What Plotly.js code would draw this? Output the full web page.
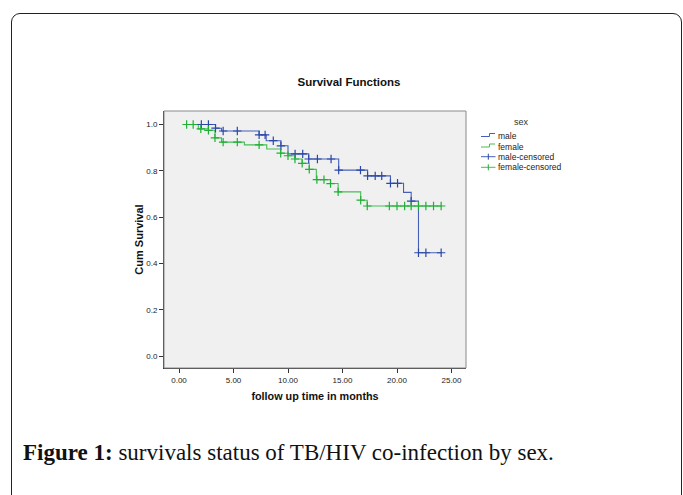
<!DOCTYPE html>
<html>
<head>
<meta charset="utf-8">
<script src="https://cdn.plot.ly/plotly-3.0.1.min.js"></script>
<style>
  html, body { margin: 0; padding: 0; background: #ffffff; }
  #wrap { position: relative; width: 683px; height: 495px; overflow: hidden; }
  #chart { position: absolute; left: 0; top: 0; width: 683px; height: 495px; }
  #frame { position: absolute; left: 11px; top: 13px; width: 671px; height: 520px;
           border: 1.5px solid #222; border-radius: 9px; pointer-events: none; box-sizing: border-box; }
</style>
</head>
<body>
<div id="wrap">
  <div id="chart"></div>
  <div id="frame"></div>
</div>
<script>
// ---- data (follow-up months, cumulative survival) ----
const maleStart = 0.64;
const maleEnd = 24.05;
const maleEventTimes = [3.35, 3.9, 7.35, 8.0, 9.35, 10.0, 11.9, 14.65, 17.3, 19.4, 20.6, 21.3, 21.97];
const maleSurvival   = [0.984, 0.972, 0.955, 0.930, 0.908, 0.873, 0.851, 0.803, 0.778, 0.746, 0.707, 0.669, 0.446];
const maleCensored   = [2.05, 2.7, 3.35, 4.05, 5.35, 7.35, 7.9, 8.65, 9.35, 10.65, 11.35, 11.9, 12.7, 13.95,
                        14.65, 16.65, 17.3, 18.0, 18.6, 19.4, 20.05, 21.3, 21.97, 22.65, 24.05];

const femaleStart = 0.64;
const femaleEnd = 24.05;
const femaleEventTimes = [1.77, 2.7, 3.3, 3.9, 6.0, 8.05, 9.33, 10.0, 10.64, 11.3, 11.95, 12.6, 13.9, 14.6, 16.67, 17.27];
const femaleSurvival   = [0.981, 0.975, 0.942, 0.924, 0.912, 0.894, 0.876, 0.865, 0.851, 0.832, 0.806, 0.762, 0.745, 0.709, 0.673, 0.648];
const femaleCensored   = [0.7, 1.3, 2.0, 2.7, 3.3, 4.05, 5.35, 7.35, 9.33, 10.0, 10.64, 11.3, 11.95, 12.65, 13.3,
                          13.9, 14.6, 16.67, 17.27, 19.3, 20.0, 20.7, 21.3, 21.97, 22.65, 23.35, 24.05];

const xTicks = [0, 5, 10, 15, 20, 25];
const xTickLabels = ['0.00', '5.00', '10.00', '15.00', '20.00', '25.00'];
const yTicks = [0, 0.2, 0.4, 0.6, 0.8, 1.0];
const yTickLabels = ['0.0', '0.2', '0.4', '0.6', '0.8', '1.0'];

const legendLabels = ['male', 'female', 'male-censored', 'female-censored'];

// ---- helpers ----
function stepXY(start, end, times, surv) {
  const x = [start].concat(times).concat([end]);
  const y = [1].concat(surv).concat([surv[surv.length - 1]]);
  return {x, y};
}
function survAt(t, times, surv) {
  let s = 1;
  for (let i = 0; i < times.length; i++) { if (t >= times[i] - 1e-9) s = surv[i]; }
  return s;
}

const BLUE = '#4560b8', BLUE_M = '#2b47a8';
const GREEN = '#46bd55', GREEN_M = '#1faf36';

const m = stepXY(maleStart, maleEnd, maleEventTimes, maleSurvival);
const f = stepXY(femaleStart, femaleEnd, femaleEventTimes, femaleSurvival);

const traces = [
  {x: m.x, y: m.y, type: 'scatter', mode: 'lines', line: {shape: 'hv', color: BLUE, width: 1.1},
   name: legendLabels[0], showlegend: false, hoverinfo: 'skip'},
  {x: f.x, y: f.y, type: 'scatter', mode: 'lines', line: {shape: 'hv', color: GREEN, width: 1.1},
   name: legendLabels[1], showlegend: false, hoverinfo: 'skip'},
  {x: maleCensored, y: maleCensored.map(t => survAt(t, maleEventTimes, maleSurvival)),
   type: 'scatter', mode: 'markers', name: legendLabels[2], showlegend: false,
   marker: {symbol: 'cross-thin', size: 6, line: {color: BLUE_M, width: 1.2}}},
  {x: femaleCensored, y: femaleCensored.map(t => survAt(t, femaleEventTimes, femaleSurvival)),
   type: 'scatter', mode: 'markers', name: legendLabels[3], showlegend: false,
   marker: {symbol: 'cross-thin', size: 6, line: {color: GREEN_M, width: 1.2}}}
];

// plot area in pixels
const L = 164, R = 466, T = 111, B = 368;
const px = v => (v - L) / (R - L);
const py = v => (B - v) / (B - T);

const FONT = 'Liberation Sans, Arial, sans-serif';

// custom SPSS-like legend
const shapes = [
  {type: 'rect', xref: 'paper', yref: 'paper', x0: 0, x1: 1, y0: 0, y1: 1,
   line: {color: '#8a8a8a', width: 1}, layer: 'above'},
  // male step glyph
  {type: 'path', xref: 'paper', yref: 'paper',
   path: `M ${px(481)} ${py(136.5)} L ${px(489.5)} ${py(136.5)} L ${px(489.5)} ${py(133.5)} L ${px(495)} ${py(133.5)}`,
   line: {color: BLUE, width: 1}},
  // female step glyph
  {type: 'path', xref: 'paper', yref: 'paper',
   path: `M ${px(481)} ${py(147)} L ${px(489.5)} ${py(147)} L ${px(489.5)} ${py(144)} L ${px(495)} ${py(144)}`,
   line: {color: GREEN, width: 1}},
  // censored glyph lines
  {type: 'line', xref: 'paper', yref: 'paper', x0: px(481), x1: px(495.5), y0: py(156.7), y1: py(156.7),
   line: {color: BLUE, width: 1}},
  {type: 'line', xref: 'paper', yref: 'paper', x0: px(488.3), x1: px(488.3), y0: py(153.7), y1: py(159.7),
   line: {color: BLUE_M, width: 1}},
  {type: 'line', xref: 'paper', yref: 'paper', x0: px(481), x1: px(495.5), y0: py(167.3), y1: py(167.3),
   line: {color: GREEN, width: 1}},
  {type: 'line', xref: 'paper', yref: 'paper', x0: px(488.3), x1: px(488.3), y0: py(164.3), y1: py(170.3),
   line: {color: GREEN_M, width: 1}}
];

const legendY = [136, 146.6, 157, 167.4];
const annotations = [
  {text: 'sex', xref: 'paper', yref: 'paper', x: px(521), y: py(122), xanchor: 'center', yanchor: 'middle',
   showarrow: false, font: {family: FONT, size: 9, color: '#333'}}
].concat(legendLabels.map((s, i) => ({
  text: s, xref: 'paper', yref: 'paper', x: px(495.5), y: py(legendY[i]), xanchor: 'left', yanchor: 'middle',
  showarrow: false, font: {family: FONT, size: 8.5, color: '#222'}
}))).concat([
  {text: '<b>Figure 1:</b> survivals status of TB/HIV co-infection by sex.', xref: 'paper', yref: 'paper',
   x: px(21), y: py(452), xanchor: 'left', yanchor: 'middle', showarrow: false, align: 'left',
   font: {family: 'Liberation Serif, Times New Roman, serif', size: 23, color: '#111'}}
]);

const layout = {
  width: 683, height: 495,
  margin: {l: L, r: 683 - R, t: T, b: 495 - B, pad: 0},
  paper_bgcolor: '#ffffff',
  plot_bgcolor: '#f0f0f0',
  showlegend: false,
  title: {text: '<b>Survival Functions</b>', x: px(349), xref: 'paper', xanchor: 'center',
          y: 1 - 82 / 495, yref: 'container', yanchor: 'middle',
          font: {family: FONT, size: 11.5, color: '#111'}},
  xaxis: {
    range: [-1.376, 26.33], tickvals: xTicks, ticktext: xTickLabels,
    showgrid: false, zeroline: false, showline: true, linecolor: '#333', linewidth: 1,
    ticks: 'outside', ticklen: 4, tickcolor: '#333', tickwidth: 1,
    tickfont: {family: FONT, size: 8, color: '#222'},
    title: {text: '<b>follow up time in months</b>', standoff: 8, font: {family: FONT, size: 10.8, color: '#111'}},
    automargin: false, fixedrange: true
  },
  yaxis: {
    range: [-0.0518, 1.0583], tickvals: yTicks, ticktext: yTickLabels,
    showgrid: false, zeroline: false, showline: true, linecolor: '#333', linewidth: 1,
    ticks: 'outside', ticklen: 4, tickcolor: '#333', tickwidth: 1,
    tickfont: {family: FONT, size: 8, color: '#222'},
    title: {text: '<b>Cum Survival</b>', standoff: 0, font: {family: FONT, size: 11, color: '#111'}},
    automargin: false, fixedrange: true
  },
  shapes: shapes,
  annotations: annotations
};

Plotly.newPlot('chart', traces, layout, {displayModeBar: false, staticPlot: true});
</script>
</body>
</html>
